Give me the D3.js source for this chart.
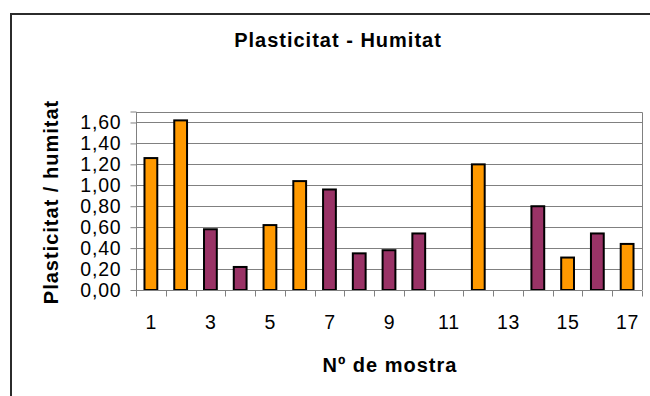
<!DOCTYPE html>
<html>
<head>
<meta charset="utf-8">
<script src="https://cdn.jsdelivr.net/npm/d3@7"></script>
<style>
  html, body { margin: 0; padding: 0; background: #fff; }
  svg { display: block; }
  text { font-family: "Liberation Sans", Arial, sans-serif; fill: #000; }
</style>
</head>
<body>
<svg id="chart" width="650" height="396"></svg>
<script>
// ---- data ----
const categories = ["1","2","3","4","5","6","7","8","9","10","11","12","13","14","15","16","17"];
const values = [1.26, 1.62, 0.58, 0.22, 0.62, 1.04, 0.96, 0.35, 0.38, 0.54, null, 1.20, null, 0.80, 0.31, 0.54, 0.44];
const groups = ["A","A","B","B","A","A","B","B","B","B",null,"A",null,"B","A","B","A"];
const groupColors = { A: "#FF9900", B: "#993366" };
const yTickValues = [0, 0.2, 0.4, 0.6, 0.8, 1.0, 1.2, 1.4, 1.6];
const xLabelShown = ["1","3","5","7","9","11","13","15","17"];
const titleText = "Plasticitat - Humitat";
const xTitleText = "Nº de mostra";
const yTitleText = "Plasticitat / humitat";

// ---- layout ----
const svg = d3.select("#chart");
const plot = { left: 136, right: 642, top: 112, bottom: 290 };

// chart border (left & top visible)
svg.append("rect")
  .attr("x", 11).attr("y", 14).attr("width", 700).attr("height", 500)
  .attr("fill", "none").attr("stroke", "#2b2b2b").attr("stroke-width", 2);

const x = d3.scaleBand().domain(categories).range([plot.left, plot.right]).padding(0);
const y = d3.scaleLinear().domain([0, 1.7]).range([plot.bottom, plot.top]);

// gridlines
svg.append("g").selectAll("line").data(yTickValues.filter(d => d > 0)).join("line")
  .attr("x1", plot.left).attr("x2", plot.right)
  .attr("y1", d => Math.round(y(d)) + 0.5).attr("y2", d => Math.round(y(d)) + 0.5)
  .attr("stroke", "#808080").attr("stroke-width", 1);

// plot area border (top & right)
svg.append("path")
  .attr("d", `M${plot.left},${plot.top + 0.5}H${plot.right + 0.5}V${plot.bottom}`)
  .attr("fill", "none").attr("stroke", "#808080").attr("stroke-width", 1);

// bars
const barW = x.bandwidth() * 0.43;
svg.append("g").selectAll("rect")
  .data(categories.map((c, i) => ({ c, v: values[i], g: groups[i] })).filter(d => d.v != null))
  .join("rect")
  .attr("x", d => x(d.c) + (x.bandwidth() - barW) / 2)
  .attr("y", d => y(d.v))
  .attr("width", barW)
  .attr("height", d => y(0) - y(d.v))
  .attr("fill", d => groupColors[d.g])
  .attr("stroke", "#000").attr("stroke-width", 2);

// y axis
const yAxis = d3.axisLeft(y).tickValues(yTickValues).tickSize(6).tickPadding(9)
  .tickFormat(d => d3.format(".2f")(d).replace(".", ","));
const gy = svg.append("g").attr("transform", `translate(${plot.left + 0.5},0)`).call(yAxis);
gy.select(".domain").attr("stroke", "#808080").attr("d", `M-6,${plot.top}H0V${plot.bottom}`);
gy.selectAll(".tick line").attr("stroke", "#808080");
gy.selectAll(".tick text").attr("font-size", 19.5).attr("letter-spacing", 0.8)
  .attr("font-family", "Liberation Sans, Arial, sans-serif");

// x axis: ticks at category boundaries, labels for odd categories
const gx = svg.append("g").attr("transform", `translate(0,${plot.bottom + 0.5})`);
gx.append("line").attr("x1", plot.left).attr("x2", plot.right)
  .attr("stroke", "#808080").attr("stroke-width", 1);
const boundaries = categories.map(c => x(c)).concat([x(categories[categories.length - 1]) + x.bandwidth()]);
gx.selectAll("line.tk").data(boundaries).join("line").attr("class", "tk")
  .attr("x1", d => Math.round(d) + 0.5).attr("x2", d => Math.round(d) + 0.5)
  .attr("y1", 0).attr("y2", 6).attr("stroke", "#808080");
gx.selectAll("text").data(xLabelShown).join("text")
  .attr("x", d => x(d) + x.bandwidth() / 2 + 0.5)
  .attr("y", 38)
  .attr("text-anchor", "middle")
  .attr("font-size", 19.5).attr("letter-spacing", 0.8)
  .text(d => d);

// titles
svg.append("text").attr("x", 338).attr("y", 47).attr("text-anchor", "middle")
  .attr("font-size", 20).attr("font-weight", "bold").attr("letter-spacing", 1)
  .text(titleText);
svg.append("text").attr("x", 390).attr("y", 372).attr("text-anchor", "middle")
  .attr("font-size", 20).attr("font-weight", "bold").attr("letter-spacing", 1)
  .text(xTitleText);
svg.append("text")
  .attr("transform", `translate(58,${(plot.top + plot.bottom) / 2 + 1}) rotate(-90)`)
  .attr("text-anchor", "middle")
  .attr("font-size", 20).attr("font-weight", "bold").attr("letter-spacing", 1)
  .text(yTitleText);
</script>
</body>
</html>
